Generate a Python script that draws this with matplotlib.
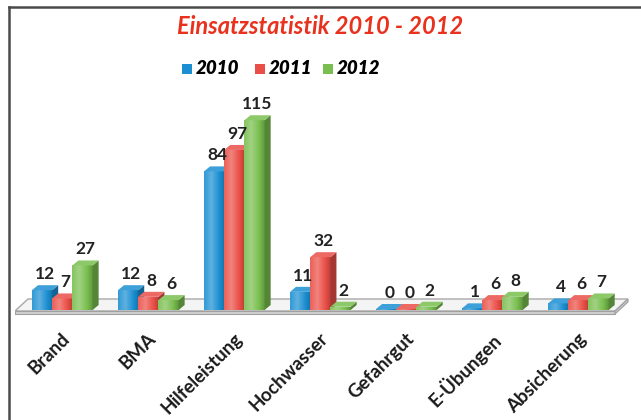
import numpy as np
import matplotlib
matplotlib.use("Agg")
import matplotlib.pyplot as plt
from matplotlib.patches import Polygon, Rectangle
from matplotlib.colors import to_rgb

# data
categories = ["Brand", "BMA", "Hilfeleistung", "Hochwasser", "Gefahrgut", "E-Übungen", "Absicherung"]
years = ["2010", "2011", "2012"]
v2010 = [12, 12, 84, 11, 0, 1, 4]
v2011 = [7, 8, 97, 32, 0, 6, 6]
v2012 = [27, 6, 115, 2, 2, 8, 7]
series = [v2010, v2011, v2012]
colors = ["#1b8fd2", "#ea4f47", "#79be4e"]

W, H = 641, 420
fig = plt.figure(figsize=(W / 100, H / 100), dpi=100)
fig.patch.set_facecolor("white")

# axes placement (pixels)
ax_l, ax_r = 15, 630
xlim = (-0.55, 6.6)
ylim = (-8, 130)
px_per_y = 1.65
base_px = 310  # pixel row (from top) of value 0
ax_b = (H - base_px) + ylim[0] * px_per_y
ax_h = (ylim[1] - ylim[0]) * px_per_y
ax = fig.add_axes([ax_l / W, ax_b / H, (ax_r - ax_l) / W, ax_h / H])
ax.set_xlim(*xlim)
ax.set_ylim(*ylim)
ax.axis("off")

px_per_x = (ax_r - ax_l) / (xlim[1] - xlim[0])

def px2dx(p):
    return p / px_per_x

def px2dy(p):
    return p / px_per_y

# floor slab
fdx, fdy = px2dx(13), px2dy(12)
fl, fr = xlim[0], xlim[1] - fdx - px2dx(2)
f0 = px2dy(-1)
floor_top = Polygon([(fl, f0), (fr, f0), (fr + fdx, f0 + fdy), (fl + fdx, f0 + fdy)],
                    closed=True, facecolor="#f4f4f4", edgecolor="#a8a8a8", lw=1.0, zorder=1)
ax.add_patch(floor_top)
ax.add_patch(Polygon([(fl, f0), (fr, f0), (fr, f0 - px2dy(3)), (fl, f0 - px2dy(3))],
                     closed=True, facecolor="#d0d0d0", edgecolor="#a0a0a0", lw=0.8, zorder=1))
ax.add_patch(Polygon([(fr, f0), (fr + fdx, f0 + fdy), (fr + fdx, f0 + fdy - px2dy(3)), (fr, f0 - px2dy(3))],
                     closed=True, facecolor="#c4c4c4", edgecolor="#a0a0a0", lw=0.8, zorder=1))


def mix(c, other, t):
    c = np.array(to_rgb(c))
    o = np.array(to_rgb(other))
    return tuple(c * (1 - t) + o * t)


bar_w = 0.235
offsets = [-bar_w, 0, bar_w]
ddx, ddy = px2dx(6), px2dy(5)
x = np.arange(len(categories))

z = 2
for ci in range(len(categories)):
    for si, vals in enumerate(series):
        col = colors[si]
        v = vals[ci]
        x0 = x[ci] + offsets[si] - bar_w / 2
        x1 = x0 + bar_w
        h = max(v, 0.6)
        bars = ax.bar([x0], [h], width=bar_w, align="edge", color=col, lw=0, zorder=z)
        rect = bars[0]
        # gradient on the front face
        t = np.linspace(0, 1, 40)
        shade = np.where(t < 0.35, 0.1 + 0.2 * t / 0.35, 0.3 - 0.5 * (t - 0.35) / 0.65)
        grad = np.array([mix(col, "white", s) if s > 0 else mix(col, "black", -s) for s in shade])
        im = ax.imshow(grad[np.newaxis, :, :], extent=(x0, x1, 0, h), aspect="auto",
                       interpolation="bilinear", zorder=z + 0.1)
        im.set_clip_path(rect)
        # side and top faces
        ax.add_patch(Polygon([(x1, 0), (x1 + ddx, ddy), (x1 + ddx, h + ddy), (x1, h)],
                             closed=True, facecolor=mix(col, "black", 0.3), lw=0, zorder=z + 0.2))
        ax.add_patch(Polygon([(x0, h), (x1, h), (x1 + ddx, h + ddy), (x0 + ddx, h + ddy)],
                             closed=True, facecolor=mix(col, "white", 0.15), lw=0, zorder=z + 0.2))
        ax.text(x0 + bar_w / 2 + ddx / 2, h + ddy + px2dy(3), str(v), ha="center", va="bottom",
                fontsize=12.5, fontweight="bold", family="Lato", color="#222222", zorder=20)
        z += 1

# category labels
for ci, name in enumerate(categories):
    ax.text(x[ci] + px2dx(5), -px2dy(26), name, rotation=45, rotation_mode="anchor",
            ha="right", va="center", fontsize=13.5, fontweight="bold", family="Lato",
            color="#1a1a1a", zorder=20)

# title
fig.text(0.5, 1 - 26 / H, "Einsatzstatistik 2010 - 2012", ha="center", va="center",
         fontsize=17, fontweight="bold", fontstyle="italic", family="Lato", color="#e8321e")

# legend
leg_y = 1 - 69 / H
leg_x = [182, 255, 323]
for si, yr in enumerate(years):
    fig.patches.append(Rectangle((leg_x[si] / W, leg_y - 5 / H), 10 / W, 10 / H,
                                 transform=fig.transFigure, facecolor=colors[si], lw=0))
    fig.text((leg_x[si] + 14) / W, leg_y, yr, ha="left", va="center", fontsize=13.5,
             fontweight="heavy", fontstyle="italic", family="Lato", color="black")

# frame lines (left and top)
fig.add_artist(plt.Line2D([9 / W, 9 / W], [0, 1 - 7 / H], transform=fig.transFigure,
                          color="#4a4a4a", lw=1.8))
fig.add_artist(plt.Line2D([9 / W, 1], [1 - 7 / H, 1 - 7 / H], transform=fig.transFigure,
                          color="#4a4a4a", lw=1.8))

fig.savefig("out.png", dpi=100, facecolor="white")
